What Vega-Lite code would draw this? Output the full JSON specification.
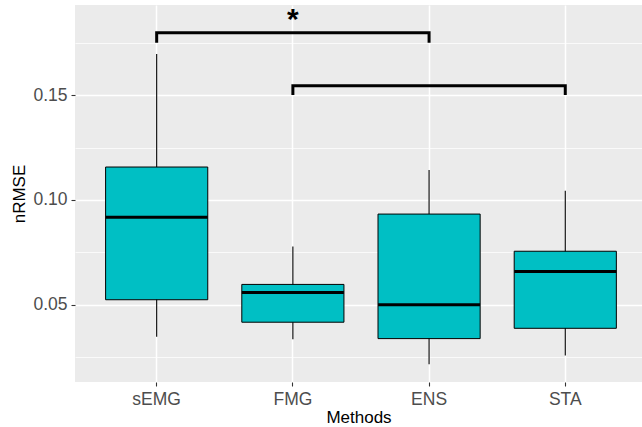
{
  "$schema": "https://vega.github.io/schema/vega-lite/v6.json",
  "width": 567,
  "height": 377,
  "autosize": {"type": "none"},
  "padding": {"left": 75, "top": 5, "right": 0, "bottom": 45},
  "background": "white",
  "config": {
    "view": {"fill": "#EBEBEB", "stroke": null},
    "font": "Liberation Sans",
    "axis": {
      "domain": false,
      "tickColor": "#333333",
      "tickWidth": 1.1,
      "tickSize": 4,
      "labelColor": "#4D4D4D",
      "labelFontSize": 17.5,
      "labelPadding": 4,
      "labelFont": "Liberation Sans",
      "titleFont": "Liberation Sans",
      "titleFontSize": 17,
      "titleFontWeight": "normal",
      "titleColor": "#000000",
      "gridColor": "#FFFFFF",
      "gridOpacity": 1
    }
  },
  "datasets": {
    "boxes": [
      {"method": "sEMG", "lower": 0.0349, "q1": 0.0525, "median": 0.0918, "q3": 0.1157, "upper": 0.1695},
      {"method": "FMG", "lower": 0.0337, "q1": 0.0418, "median": 0.0560, "q3": 0.0598, "upper": 0.0778},
      {"method": "ENS", "lower": 0.0218, "q1": 0.0340, "median": 0.0501, "q3": 0.0933, "upper": 0.1143},
      {"method": "STA", "lower": 0.0259, "q1": 0.0389, "median": 0.0660, "q3": 0.0756, "upper": 0.1044}
    ],
    "brackets": [
      {"bracket": "A", "step": 1, "method": "sEMG", "y": 0.1749},
      {"bracket": "A", "step": 2, "method": "sEMG", "y": 0.1797},
      {"bracket": "A", "step": 3, "method": "ENS", "y": 0.1797},
      {"bracket": "A", "step": 4, "method": "ENS", "y": 0.1749},
      {"bracket": "B", "step": 1, "method": "FMG", "y": 0.1500},
      {"bracket": "B", "step": 2, "method": "FMG", "y": 0.1544},
      {"bracket": "B", "step": 3, "method": "STA", "y": 0.1544},
      {"bracket": "B", "step": 4, "method": "STA", "y": 0.1500}
    ],
    "stars": [
      {"method": "FMG", "y": 0.1816, "label": "*"}
    ]
  },
  "layer": [
    {
      "data": {"name": "boxes"},
      "mark": {"type": "rule", "color": "#000000", "strokeWidth": 1.1},
      "encoding": {
        "x": {
          "field": "method",
          "type": "nominal",
          "scale": {"domain": ["sEMG", "FMG", "ENS", "STA"], "paddingInner": 0.25, "paddingOuter": 0.2065, "align": 0.544},
          "axis": {
            "title": "Methods",
            "labelAngle": 0,
            "bandPosition": 0.5,
            "grid": true,
            "gridWidth": 1.5,
            "titlePadding": 2
          }
        },
        "y": {
          "field": "lower",
          "type": "quantitative",
          "scale": {"domain": [0.01333, 0.19286], "nice": false, "zero": false},
          "axis": {
            "title": "nRMSE",
            "values": [0.025, 0.05, 0.075, 0.1, 0.125, 0.15, 0.175],
            "format": ".2f",
            "labelExpr": "round(datum.value*40) % 2 == 0 ? datum.label : ''",
            "tickOpacity": {"condition": {"test": "round(datum.value*40) % 2 == 0", "value": 1}, "value": 0},
            "gridWidth": {"condition": {"test": "round(datum.value*40) % 2 == 0", "value": 1.5}, "value": 0.75},
            "grid": true,
            "titlePadding": 4
          }
        },
        "y2": {"field": "upper"}
      }
    },
    {
      "data": {"name": "boxes"},
      "mark": {"type": "bar", "fill": "#00BFC4", "stroke": "#000000", "strokeWidth": 1},
      "encoding": {
        "x": {"field": "method", "type": "nominal"},
        "y": {"field": "q1", "type": "quantitative"},
        "y2": {"field": "q3"}
      }
    },
    {
      "data": {"name": "boxes"},
      "mark": {"type": "tick", "color": "#000000", "thickness": 3, "size": 102, "opacity": 1},
      "encoding": {
        "x": {"field": "method", "type": "nominal"},
        "y": {"field": "median", "type": "quantitative"}
      }
    },
    {
      "data": {"name": "brackets"},
      "mark": {"type": "line", "color": "#000000", "strokeWidth": 3, "strokeJoin": "miter", "strokeCap": "butt"},
      "encoding": {
        "x": {"field": "method", "type": "nominal"},
        "y": {"field": "y", "type": "quantitative"},
        "detail": {"field": "bracket"},
        "order": {"field": "step", "type": "quantitative"}
      }
    },
    {
      "data": {"name": "stars"},
      "mark": {"type": "text", "color": "#000000", "fontSize": 30, "fontWeight": "bold", "baseline": "alphabetic", "align": "center", "font": "Liberation Sans"},
      "encoding": {
        "x": {"field": "method", "type": "nominal"},
        "y": {"field": "y", "type": "quantitative"},
        "text": {"field": "label"}
      }
    }
  ]
}
